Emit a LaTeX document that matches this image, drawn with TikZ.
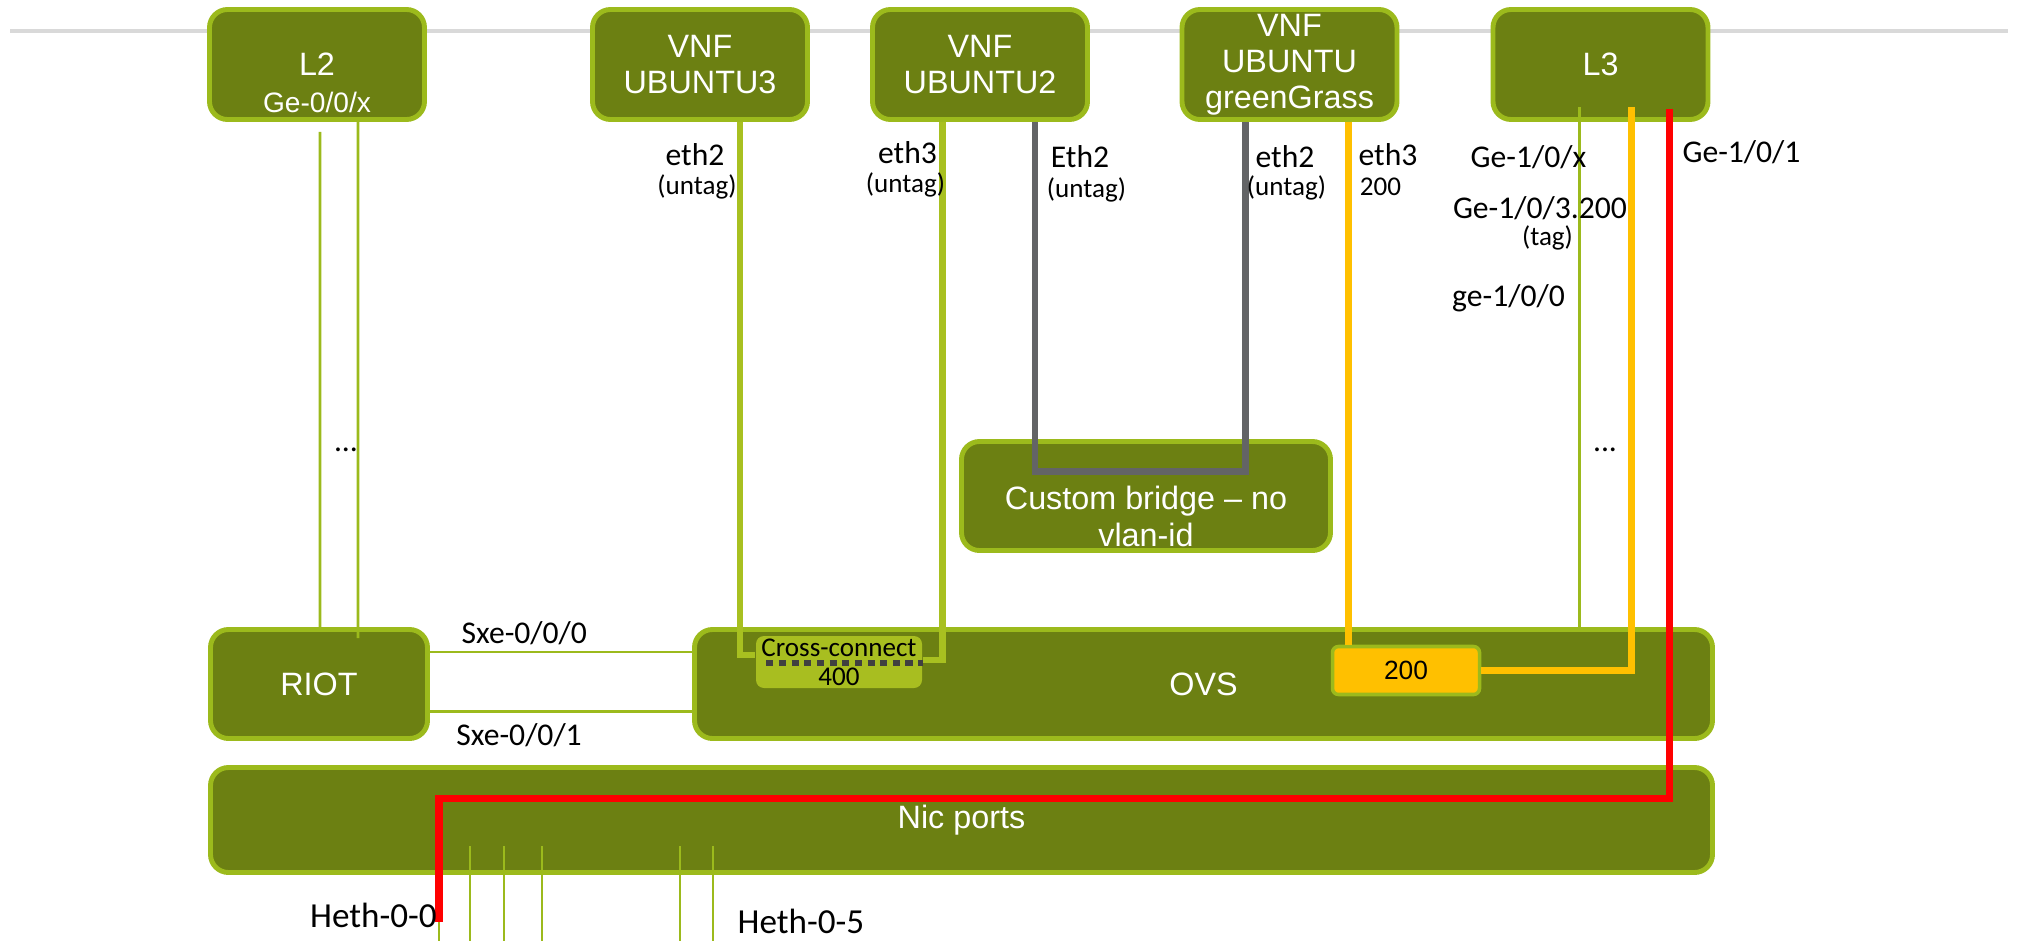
\documentclass[tikz,border=0pt]{standalone}
\usepackage{fontspec}
\setmainfont{Liberation Sans}
\newfontfamily\lblfont{Carlito}
\usetikzlibrary{positioning,calc}

\definecolor{boxfill}{RGB}{108,128,18}
\definecolor{boxedge}{RGB}{156,186,28}
\definecolor{linkgreen}{RGB}{168,192,32}
\definecolor{xcfill}{RGB}{168,190,32}
\definecolor{vlanorange}{RGB}{255,192,0}
\definecolor{bridgegray}{RGB}{99,100,102}
\definecolor{rulegray}{RGB}{217,217,217}

\tikzset{
  box/.style={draw=boxedge,fill=boxfill,line width=1.4pt,rounded corners=0.18cm,
    text=white,font=\fontsize{9.2}{10.3}\selectfont,align=center,inner sep=0pt,
    minimum width=2.15cm,minimum height=1.1cm},
  boxtext/.style={text=white,font=\fontsize{9.2}{10.5}\selectfont,align=center,inner sep=0pt},
  xcbox/.style={fill=xcfill,rounded corners=0.08cm,minimum width=1.66cm,minimum height=0.52cm,
    inner sep=0pt,align=center,font=\lblfont\fontsize{7.7}{8.3}\selectfont},
  vlanbox/.style={draw=boxedge,fill=vlanorange,line width=1pt,rounded corners=0.06cm,
    minimum width=1.47cm,minimum height=0.48cm,inner sep=0pt,font=\fontsize{7.5}{9}\selectfont},
  lbl/.style={text=black,font=\lblfont\fontsize{9}{10}\selectfont,inner sep=0pt},
  sml/.style={text=black,font=\lblfont\fontsize{7.7}{9}\selectfont,inner sep=0pt},
  hethlbl/.style={text=black,font=\lblfont\fontsize{10}{12}\selectfont,inner sep=0pt},
  thinlink/.style={boxedge,line width=0.75pt},
  sxelink/.style={boxedge,line width=0.85pt},
  vnflink/.style={linkgreen,line width=1.8pt},
  graylink/.style={bridgegray,line width=1.8pt},
  orangelink/.style={vlanorange,line width=2pt},
  redlink/.style={red,line width=2pt},
  xcdash/.style={black!75,line width=1.6pt,dash pattern=on 2pt off 1.6pt},
}

\begin{document}
\begin{tikzpicture}
\useasboundingbox (0,0) rectangle (20.17,-9.41);

\draw[rulegray,line width=1pt] (0.10,-0.31) -- (20.08,-0.31);

% top row
\node[box] (l2) at (3.17,-0.645) {};
\node[boxtext] (l2txt) at ([yshift=-0.18cm]l2.center) {L2\\{\fontsize{8}{9}\selectfont Ge-0/0/x}};
\node[box] (vnf3) at (7.00,-0.645) {VNF\\UBUNTU3};
\node[box] (vnf2) at (9.80,-0.645) {VNF\\UBUNTU2};
\node[box] (vnfgg) at (12.895,-0.645) {VNF\\UBUNTU\\greenGrass};
\node[box] (l3) at (16.005,-0.645) {L3};

% middle and bottom
\node[box,minimum width=3.69cm,minimum height=1.09cm] (bridge) at (11.46,-4.96) {};
\node[boxtext] (bridgetxt) at ([yshift=-0.205cm]bridge.center) {Custom bridge – no\\vlan-id};
\node[box,minimum width=2.17cm,minimum height=1.09cm] (riot) at (3.19,-6.84) {RIOT};
\node[box,minimum width=10.18cm,minimum height=1.09cm] (ovs) at (12.035,-6.84) {OVS};
\node[box,minimum width=15.02cm,minimum height=1.05cm] (nic) at (9.615,-8.20) {Nic ports};

\node[xcbox] (xconn) at (8.39,-6.62) {Cross-connect\\400};
\node[vlanbox] (box200) at (14.06,-6.705) {200};

% L2 to RIOT
\draw[thinlink] ([xshift=0.03cm,yshift=-0.10cm]l2.south) -- ([xshift=0.01cm]riot.north);
\draw[thinlink] ([xshift=0.41cm]l2.south) -- ([xshift=0.39cm,yshift=-0.11cm]riot.north);
\node[lbl] (dotsl2) at (3.46,-4.50) {...};

% RIOT to OVS
\draw[sxelink] ([yshift=0.32cm]riot.east) -- node[lbl,pos=0.36,yshift=0.19cm] (sxe0) {Sxe-0/0/0} ([yshift=0.32cm]ovs.west);
\draw[sxelink] ([yshift=-0.27cm]riot.east) -- node[lbl,pos=0.34,yshift=-0.24cm] (sxe1) {Sxe-0/0/1} ([yshift=-0.27cm]ovs.west);

% cross-connect
\draw[vnflink] ([xshift=0.40cm]vnf3.south) |- ([yshift=0.07cm]xconn.west);
\draw[vnflink] ([xshift=-0.375cm]vnf2.south) |- ([yshift=0.02cm]xconn.east);
\draw[xcdash] ([xshift=0.11cm,yshift=-0.01cm]xconn.west) -- ([yshift=-0.01cm]xconn.east);

\node[lbl] (e2a) at (6.95,-1.55) {eth2};
\node[sml] (e2au) at (6.97,-1.87) {(untag)};
\node[lbl] (e3a) at (9.075,-1.53) {eth3};
\node[sml] (e3au) at (9.055,-1.85) {(untag)};

% custom bridge
\draw[graylink] ([xshift=0.55cm]vnf2.south) |- ([yshift=0.245cm]bridge.center) -| ([xshift=-0.44cm]vnfgg.south);
\node[lbl] (e2b) at (10.80,-1.57) {Eth2};
\node[sml] (e2bu) at (10.865,-1.90) {(untag)};
\node[lbl] (e2c) at (12.85,-1.57) {eth2};
\node[sml] (e2cu) at (12.865,-1.88) {(untag)};

% vlan 200
\coordinate (ggport) at ([xshift=0.59cm]vnfgg.south);
\draw[orangelink] (ggport) -- (ggport |- box200.north);
\draw[orangelink] ([xshift=0.31cm,yshift=0.15cm]l3.south) |- (box200.east);
\node[lbl] (e3c) at (13.88,-1.55) {eth3};
\node[sml] (e3cu) at (13.805,-1.87) {200};

% L3 ports
\coordinate (l3ge) at ([xshift=-0.21cm,yshift=0.15cm]l3.south);
\draw[thinlink] (l3ge) -- (l3ge |- ovs.north);
\node[lbl] (gex) at (15.285,-1.575) {Ge-1/0/x};
\node[lbl] (ge3) at (15.40,-2.08) {Ge-1/0/3.200};
\node[sml] (ge3t) at (15.475,-2.38) {(tag)};
\node[lbl] (ge0) at (15.085,-2.98) {ge-1/0/0};
\node[lbl] (dotsl3) at (16.05,-4.50) {...};

% nic ports
\foreach \x in {4.39,4.70,5.04,5.42,6.80,7.13}
  \draw[thinlink,line width=0.65pt] (\x,-8.46) -- (\x,-9.41);

\coordinate (heth0) at (4.39,-9.22);
\draw[redlink] ([xshift=0.69cm,yshift=0.13cm]l3.south) |- ([yshift=0.215cm]nic.center) -| (heth0);
\node[lbl] (ge1) at (17.415,-1.525) {Ge-1/0/1};
\node[hethlbl] (lblh0) at (3.735,-9.15) {Heth-0-0};
\node[hethlbl] (lblh5) at (8.01,-9.215) {Heth-0-5};

\end{tikzpicture}
\end{document}
